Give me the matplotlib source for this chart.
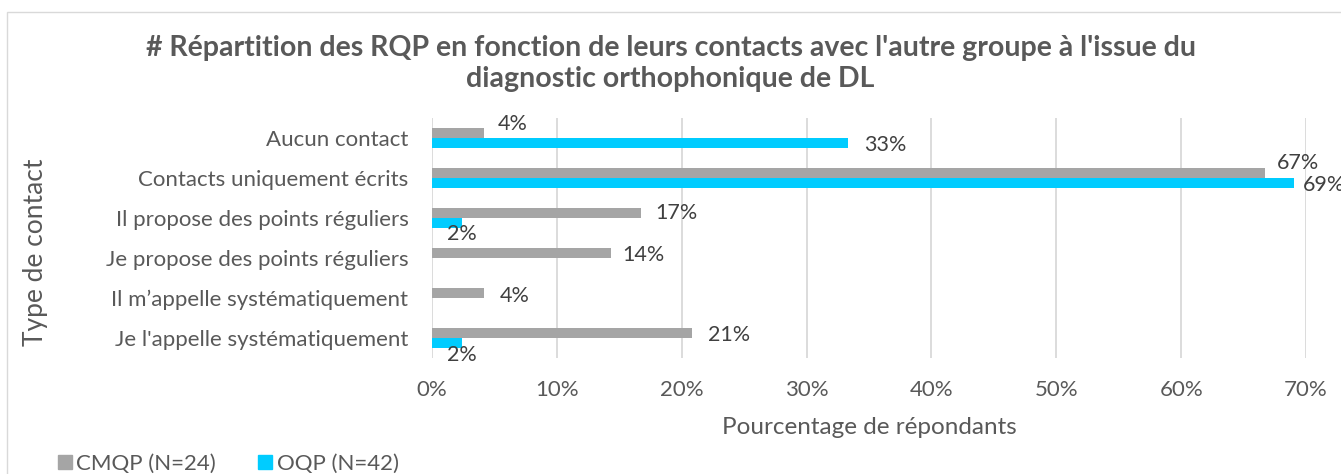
"""Répartition des RQP selon leurs contacts avec l'autre groupe (barres horizontales)."""

import matplotlib.pyplot as plt
from matplotlib.patches import Rectangle, Patch

categories = [
    "Aucun contact",
    "Contacts uniquement écrits",
    "Il propose des points réguliers",
    "Je propose des points réguliers",
    "Il m\u2019appelle systématiquement",
    "Je l'appelle systématiquement",
]
cmqp = [4.2, 66.7, 16.7, 14.3, 4.2, 20.8]
oqp = [33.3, 69.0, 2.4, 0.0, 0.0, 2.4]
series_labels = ["CMQP (N=24)", "OQP (N=42)"]
xticks = [0, 10, 20, 30, 40, 50, 60, 70]

GRAY = "#A5A5A5"
CYAN = "#00CCFF"
TEXT = "#595959"
LABEL = "#404040"
GRID = "#D9D9D9"

# label offsets in pixels (dx, dy, ha) -- Excel placed them by hand
CMQP_OFF = [(13, 9, "left"), (12, 10, "left"), (15, 0, "left"),
            (12, -2, "left"), (15, -3, "left"), (16, -2, "left")]
OQP_OFF = [(16, -2, "left"), (9, -2, "left"), (0, -11, "center"),
           None, None, (0, -12, "center")]

plt.rcParams["font.family"] = ["Lato", "DejaVu Sans"]

fig = plt.figure(figsize=(13.41, 4.74), dpi=100)
ax = fig.add_axes([432 / 1341, 1 - 358 / 474, (1306 - 432) / 1341, 240 / 474])

# chart border
fig.patches.append(Rectangle((7 / 1341, -0.1), 1.2, 1 - 12 / 474 + 0.1,
                             transform=fig.transFigure, fill=False,
                             edgecolor=GRID, lw=1.0))

y = list(range(len(categories)))
h = 0.26
ax.barh([v - h / 2 for v in y], cmqp, height=h, color=GRAY)
ax.barh([v + h / 2 for v in y], oqp, height=h, color=CYAN)

for i, v in enumerate(cmqp):
    dx, dy, ha = CMQP_OFF[i]
    ax.annotate(f"{v:.0f}%", xy=(v, i - h / 2), xytext=(dx, dy),
                textcoords="offset pixels", ha=ha, va="center",
                fontsize=15.5, color=LABEL, annotation_clip=False)
for i, v in enumerate(oqp):
    if v <= 0:
        continue
    dx, dy, ha = OQP_OFF[i]
    ax.annotate(f"{v:.0f}%", xy=(v, i + h / 2), xytext=(dx, dy),
                textcoords="offset pixels", ha=ha, va="center",
                fontsize=15.5, color=LABEL, annotation_clip=False)

ax.set_xlim(0, 70)
ax.set_ylim(len(categories) - 0.5, -0.5)
ax.set_xticks(xticks)
ax.set_xticklabels([f"{t}%" for t in xticks])
ax.set_yticks(y)
ax.set_yticklabels(categories)
ax.tick_params(axis="both", length=0, labelsize=16, labelcolor=TEXT)
ax.tick_params(axis="y", pad=17)
ax.tick_params(axis="x", pad=16)
ax.grid(axis="x", color=GRID, lw=1.3)
ax.set_axisbelow(True)
for s in ax.spines.values():
    s.set_visible(False)

ax.set_xlabel("Pourcentage de répondants", fontsize=17.5, color=TEXT, labelpad=12)
fig.text(36 / 1341, 1 - 252 / 474, "Type de contact", rotation=90,
         ha="center", va="center", fontsize=19, color=TEXT)

fig.text(0.5, 1 - 48 / 474,
         "# Répartition des RQP en fonction de leurs contacts avec l'autre groupe à l'issue du",
         ha="center", va="center", fontsize=20.5, fontweight="bold", color=TEXT)
fig.text(0.5, 1 - 79 / 474, "diagnostic orthophonique de DL",
         ha="center", va="center", fontsize=20.5, fontweight="bold", color=TEXT)

handles = [Patch(color=GRAY), Patch(color=CYAN)]
fig.legend(handles, series_labels, loc="center left",
           bbox_to_anchor=(58 / 1341, 1 - 464 / 474), ncol=2, frameon=False,
           borderpad=0, borderaxespad=0,
           fontsize=16, labelcolor=TEXT, handlelength=0.63, handleheight=0.6,
           handletextpad=0.2, columnspacing=1.9)

fig.savefig("out.png", dpi=100)
